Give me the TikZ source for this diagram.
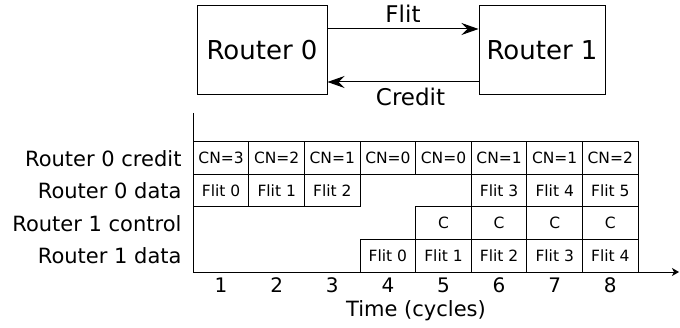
\documentclass[tikz,border=0pt]{standalone}
\usepackage{fontspec}
\setmainfont{DejaVu Sans}
\usetikzlibrary{arrows.meta}
\begin{document}
\begin{tikzpicture}[x=1pt,y=1pt,
  router/.style={draw, line width=1pt, minimum height=89pt, inner sep=0pt,
    font=\fontsize{26}{30}\selectfont},
  link/.style={line width=1pt, -{Stealth[length=17pt,width=12pt,inset=6pt]}},
  linklabel/.style={inner sep=0pt, font=\fontsize{23}{27}\selectfont},
  cell/.style={draw, line width=1pt, minimum width=55.6pt, minimum height=32.5pt,
    inner sep=0pt, font=\fontsize{15.5}{18}\selectfont},
  rowlabel/.style={anchor=east, inner sep=0pt, font=\fontsize{21}{24}\selectfont},
  ticklabel/.style={inner sep=0pt, font=\fontsize{20}{24}\selectfont},
  axis/.style={line width=1pt}]
\useasboundingbox (0,0) rectangle (680,327);

% routers and the links between them
\node[router, minimum width=130pt] (r0) at (262,276.5) {Router 0};
\node[router, minimum width=126pt] (r1) at (542,276.5) {Router 1};
\draw[link] ([yshift=21.5pt]r0.east) -- ([yshift=21.5pt]r1.west)
  node[linklabel, midway, above=6pt] (flitlbl) {Flit};
\draw[link] ([yshift=-31.5pt]r1.west) -- ([yshift=-31.5pt]r0.east)
  node[linklabel, pos=0.45, below=6pt] (creditlbl) {Credit};

% axes
\coordinate (origin) at (193.3,55);
\coordinate (ytop) at (193.3,214);
\coordinate (xend) at (679,55);
\draw[axis] (ytop) -- (origin);
\draw[axis, -{Stealth[length=7pt,width=8pt,inset=2pt]}] (origin) -- (xend);

% row labels
\node[rowlabel] (lcr) at (181.7,168.75) {Router 0 credit};
\node[rowlabel] (ld0) at (181.7,136.25) {Router 0 data};
\node[rowlabel] (lc1) at (181.7,103.75) {Router 1 control};
\node[rowlabel] (ld1) at (181.7,71.25) {Router 1 data};

% timeline cells
\foreach \i/\t in {1/CN=3,2/CN=2,3/CN=1,4/CN=0,5/CN=0,6/CN=1,7/CN=1,8/CN=2}
  \node[cell] (cr\i) at ({193.3+55.6*(\i-0.5)},168.75) {\t};
\foreach \i/\t in {1/Flit 0,2/Flit 1,3/Flit 2,6/Flit 3,7/Flit 4,8/Flit 5}
  \node[cell] (da\i) at ({193.3+55.6*(\i-0.5)},136.25) {\t};
\foreach \i in {5,...,8}
  \node[cell] (ct\i) at ({193.3+55.6*(\i-0.5)},103.75) {C};
\foreach \i/\t in {4/Flit 0,5/Flit 1,6/Flit 2,7/Flit 3,8/Flit 4}
  \node[cell] (db\i) at ({193.3+55.6*(\i-0.5)},71.25) {\t};

% cycle numbers
\foreach \i in {1,...,8}
  \node[ticklabel] (tk\i) at ({193.3+55.6*(\i-0.5)},42) {\i};
\node[ticklabel, font=\fontsize{21}{25}\selectfont] (tlabel) at (416,16) {Time (cycles)};
\end{tikzpicture}
\end{document}
